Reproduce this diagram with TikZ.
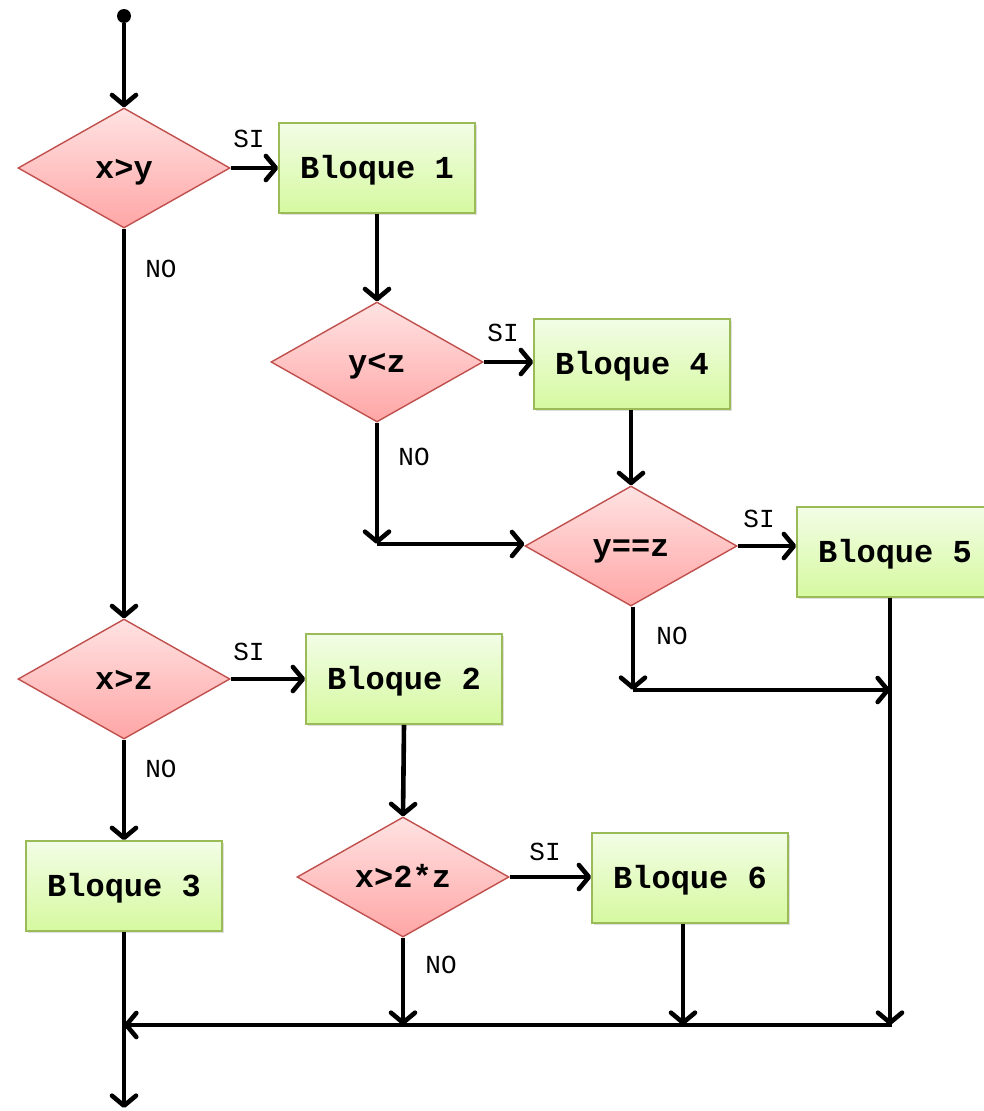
\documentclass[tikz,border=0pt]{standalone}
\usepackage{fontspec}
\setmonofont{Liberation Mono}
\usetikzlibrary{shapes.geometric,arrows.meta,shadows}
\definecolor{dtop}{HTML}{FFE2E2}
\definecolor{dbot}{HTML}{FFA6A6}
\definecolor{dline}{HTML}{C0504D}
\definecolor{btop}{HTML}{F2FDE6}
\definecolor{bbot}{HTML}{D6F9A0}
\definecolor{bline}{HTML}{9BBB59}
\tikzset{
  cond/.style={diamond, aspect=1.77, inner sep=0pt, minimum width=212pt, minimum height=120pt,
    draw=dline, line width=1.4pt, top color=dtop, bottom color=dbot,
    text height=20pt, text depth=0pt,
    font=\fontsize{32}{36}\selectfont\ttfamily\bfseries},
  blk/.style={rectangle, inner sep=0pt, minimum width=196pt, minimum height=90pt,
    draw=bline, line width=1.6pt, top color=btop, bottom color=bbot,
    text height=20pt, text depth=0pt,
    drop shadow={shadow xshift=2pt, shadow yshift=-2pt, opacity=0.25},
    font=\fontsize{32}{36}\selectfont\ttfamily\bfseries},
  conn/.style={line width=4.6pt, -{Straight Barb[length=10pt,width=24pt,round]}},
  lbl/.style={font=\fontsize{26}{30}\selectfont\ttfamily, inner sep=0pt}
}
\begin{document}
\begin{tikzpicture}[x=1pt,y=-1pt]
\clip (0,0) rectangle (984,1111);
\fill[white] (0,0) rectangle (984,1111);
% nodes
\node[circle, fill=black, inner sep=0pt, minimum size=14pt] (start) at (124,16) {};
\node[cond] (d1) at (124,168) {x>y};
\node[blk] (b1) at (377,168) {Bloque 1};
\node[cond] (d2) at (377,362) {y<z};
\node[blk] (b4) at (632,364) {Bloque 4};
\node[cond] (d3) at (631,546) {y==z};
\node[blk] (b5) at (895,552) {Bloque 5};
\node[cond] (d4) at (124,679) {x>z};
\node[blk] (b2) at (404,679) {Bloque 2};
\node[cond] (d5) at (403,877) {x>2*z};
\node[blk] (b6) at (690,878) {Bloque 6};
\node[blk] (b3) at (124,886) {Bloque 3};
% junction coordinates
\coordinate (j1) at (377,544);
\coordinate (j2) at (633,690);
\coordinate (j3) at (890,690);
\coordinate (j4) at (892,1025);
\coordinate (j5) at (124,1025);
\coordinate (j6) at (683,1025);
\coordinate (endpt) at (124,1108);
% labels
\node[lbl] (l1) at (249,139) {SI};
\node[lbl] (l2) at (161,269) {NO};
\node[lbl] (l3) at (503,333) {SI};
\node[lbl] (l4) at (414,457) {NO};
\node[lbl] (l5) at (759,519) {SI};
\node[lbl] (l6) at (672,636) {NO};
\node[lbl] (l7) at (249,652) {SI};
\node[lbl] (l8) at (161,769) {NO};
\node[lbl] (l9) at (545,852) {SI};
\node[lbl] (l10) at (441,965) {NO};
% connectors
\draw[conn] (start) -- (d1.north);
\draw[conn] (d1.east) -- (d1.east -| b1.west);
\draw[conn] (b1.south) -- (d2.north);
\draw[conn] (d2.east) -- (d2.east -| b4.west);
\draw[conn] (b4.south -| d3.north) -- (d3.north);
\draw[conn] (d2.south) -- (j1);
\draw[conn] (j1) -- (j1 -| d3.west);
\draw[conn] (d3.east) -- (d3.east -| b5.west);
\draw[conn] (d3.south -| j2) -- (j2);
\draw[conn] (j2) -- (j3);
\draw[conn] (b5.south -| j3) -- (j3 |- j4);
\draw[conn] (d1.south) -- (d4.north);
\draw[conn] (d4.east) -- (d4.east -| b2.west);
\draw[conn] (b2.south) -- (d5.north);
\draw[conn] (d5.east) -- (d5.east -| b6.west);
\draw[conn] (d5.south) -- (d5.south |- j4);
\draw[conn] (b6.south -| j6) -- (j6);
\draw[conn] (d4.south) -- (b3.north);
\draw[conn] (j4) -- (j5);
\draw[conn] (b3.south) -- (endpt);
\end{tikzpicture}
\end{document}
